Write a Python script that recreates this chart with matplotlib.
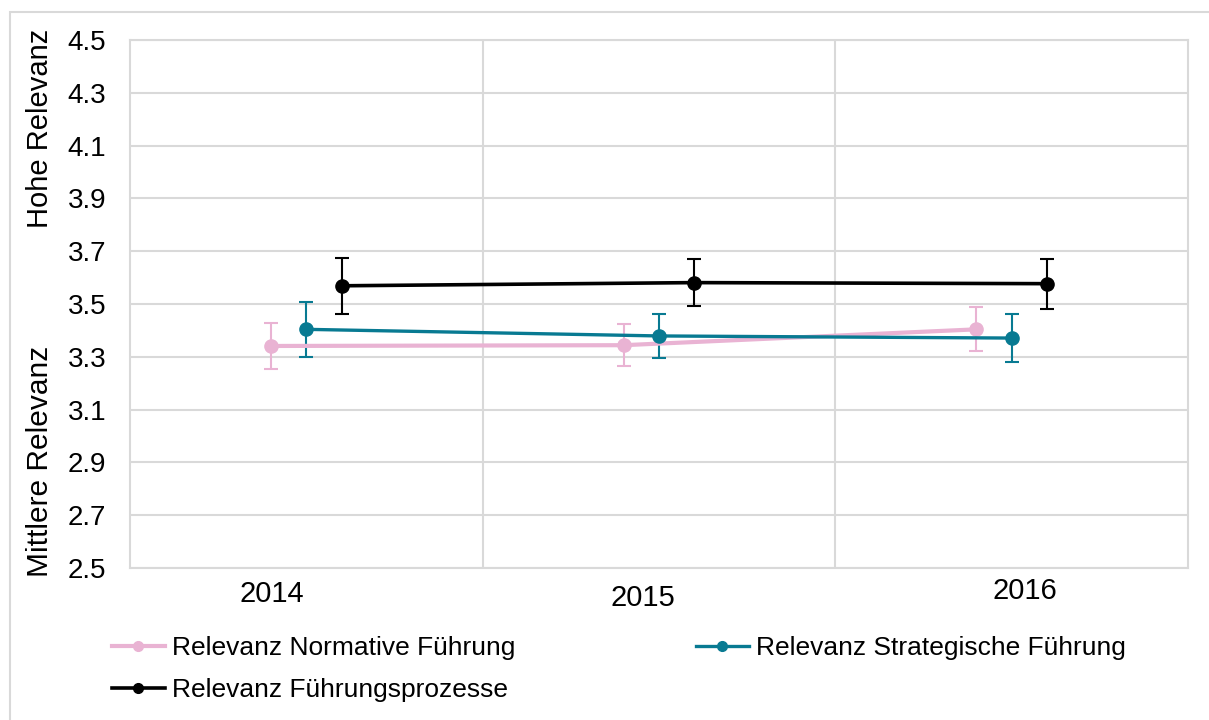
import matplotlib
matplotlib.use("Agg")
import matplotlib.pyplot as plt
from matplotlib.patches import Rectangle
from matplotlib.transforms import blended_transform_factory
import numpy as np

plt.rcParams['font.family'] = ['Liberation Sans', 'DejaVu Sans']

# data
years = ['2014', '2015', '2016']
normativ = [3.341, 3.344, 3.404]
normativ_err = [0.087, 0.079, 0.083]
strategisch = [3.404, 3.379, 3.371]
strategisch_err = [0.104, 0.085, 0.091]
prozesse = [3.569, 3.581, 3.577]
prozesse_err = [0.107, 0.090, 0.095]
labels = ['Relevanz Normative Führung', 'Relevanz Strategische Führung',
          'Relevanz Führungsprozesse']
y_ticks = [2.5, 2.7, 2.9, 3.1, 3.3, 3.5, 3.7, 3.9, 4.1, 4.3, 4.5]

PINK = '#E9B3D3'
TEAL = '#087A92'
BLACK = '#000000'
GRID = '#D9D9D9'

W, H = 1209, 720
fig = plt.figure(figsize=(W / 100, H / 100), dpi=100)

# light frame around the chart (runs off right and bottom edge)
fig.patches.append(Rectangle((10 / W, -0.1), 1.2, 1.1 - 12 / H, transform=fig.transFigure,
                             fill=False, edgecolor=GRID, linewidth=1.5))

ax = fig.add_axes([130 / W, 1 - 568 / H, (1188 - 130) / W, (568 - 40) / H])

x = np.arange(len(years))
series = [
    (normativ, normativ_err, PINK, -0.1, 3.0),
    (strategisch, strategisch_err, TEAL, 0.0, 2.4),
    (prozesse, prozesse_err, BLACK, 0.1, 2.6),
]
handles = []
for (vals, errs, col, off, lw), lab in zip(series, labels):
    ax.errorbar(x + off, vals, yerr=errs, color=col, ecolor=col, elinewidth=1.5,
                capsize=5, capthick=1.5, linewidth=lw, marker='o', markersize=9.5,
                zorder=3)
    h, = ax.plot([], [], color=col, linewidth=lw, marker='o', markersize=7, label=lab)
    handles.append(h)

ax.set_xlim(-0.5, 2.5)
ax.set_ylim(2.5, 4.5)
ax.set_yticks(y_ticks)
ax.set_yticklabels([f"{v:.1f}" for v in y_ticks])
ax.set_xticks([0.5, 1.5])
ax.set_xticklabels([])
ax.tick_params(axis='both', length=0, labelsize=20, colors='black')
ax.tick_params(axis='y', pad=17)
ax.grid(True, color=GRID, linewidth=1.5)
ax.set_axisbelow(True)
for sp in ax.spines.values():
    sp.set_color(GRID)
    sp.set_linewidth(1.5)

# year labels sit a little unevenly in the original
tr = blended_transform_factory(ax.transData, ax.transAxes)
year_pos = [(-0.097, -0.049), (0.954, -0.057), (2.037, -0.044)]
for lab, (px, py) in zip(years, year_pos):
    ax.text(px, py, lab, transform=tr, ha='center', va='center', fontsize=21)

fig.text(40 / W, 1 - 128 / H, 'Hohe Relevanz', rotation=90, ha='center', va='center',
         fontsize=21)
fig.text(40 / W, 1 - 461 / H, 'Mittlere Relevanz', rotation=90, ha='center', va='center',
         fontsize=21.5)

leg = fig.legend([handles[0], handles[2], handles[1]],
                 [labels[0], labels[2], labels[1]],
                 ncol=2, loc='upper left', bbox_to_anchor=(112 / W, 1 - 636 / H),
                 frameon=False, fontsize=19, handlelength=2.0, handletextpad=0.27,
                 columnspacing=6.85, labelspacing=0.68, borderaxespad=0, borderpad=0)

fig.savefig('out.png', dpi=100)
